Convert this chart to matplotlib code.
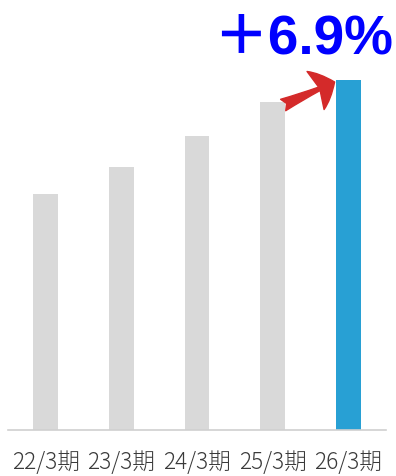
import matplotlib
matplotlib.use("Agg")
import matplotlib.pyplot as plt

categories = ["22/3期", "23/3期", "24/3期", "25/3期", "26/3期"]
values = [236, 263, 294, 328, 350]
bar_colors = ["#d9d9d9", "#d9d9d9", "#d9d9d9", "#d9d9d9", "#28a0d4"]
growth_label = "＋6.9%"

plt.rcParams['font.family'] = ['Noto Sans CJK JP', 'DejaVu Sans']

fig = plt.figure(figsize=(3.96, 4.77), dpi=100)
ax = fig.add_axes([8/396, 46/477, 378/396, 421/477])
x = list(range(len(categories)))
ax.bar(x, values, width=0.33, color=bar_colors, zorder=2)
ax.set_xlim(-0.5, 4.5)
ax.set_ylim(0, 421)
for s in ["top", "right", "left"]:
    ax.spines[s].set_visible(False)
ax.spines["bottom"].set_color("#d0d0d0")
ax.spines["bottom"].set_linewidth(1.2)
ax.set_yticks([])
ax.set_xticks(x)
ax.set_xticklabels(categories, fontsize=16.3, color="#3a3a3a", fontweight='light')
ax.tick_params(axis='x', length=0, pad=14)

ax.annotate('', xy=(3.82, values[4] - 2), xytext=(3.14, values[3] - 3),
            arrowprops=dict(arrowstyle='fancy,head_width=1.5,head_length=0.75,tail_width=0.45',
                            color='#d42a2a', shrinkA=0, shrinkB=0, mutation_scale=20), zorder=3)

fig.text(393/396, 1 - 53/477, growth_label, fontsize=39.5, fontweight='bold', color='#0000ff',
         ha='right', va='baseline', family=['Liberation Sans', 'Noto Sans CJK JP'])

fig.savefig("out.png", dpi=100)
